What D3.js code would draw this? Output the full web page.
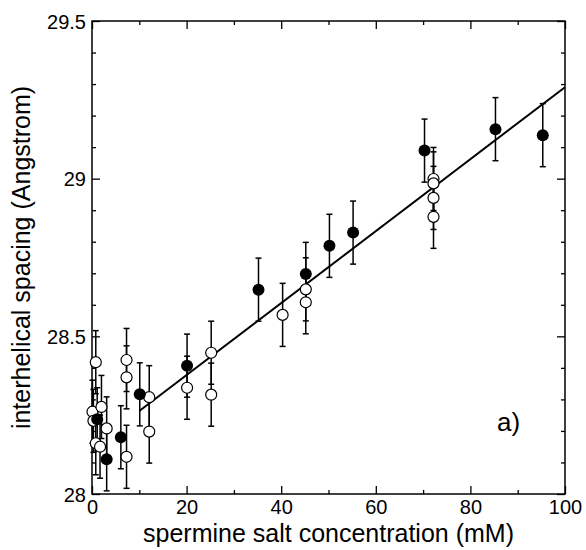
<!DOCTYPE html>
<html>
<head>
<meta charset="utf-8">
<script src="https://cdn.jsdelivr.net/npm/d3@7"></script>
<style>
  body { margin: 0; background: #fff; }
  text { font-family: "Liberation Sans", Arial, sans-serif; fill: #000; }
</style>
</head>
<body>
<script>
// filled circles
var filledX = [1.1, 3.1, 6.1, 10.1, 20.1, 35.2, 45.2, 50.2, 55.2, 70.3, 85.3, 95.3];
var filledY = [28.237, 28.11, 28.18, 28.316, 28.407, 28.648, 28.698, 28.787, 28.829, 29.089, 29.157, 29.138];
var filledErr = [0.1, 0.1, 0.1, 0.1, 0.1, 0.1, 0.1, 0.1, 0.1, 0.1, 0.1, 0.1];

// open circles
var openX = [0.1, 0.3, 0.8, 0.8, 1.7, 2.0, 3.1, 7.3, 7.3, 7.3, 12.1, 12.1, 20.1, 25.2, 25.2, 40.3, 45.2, 45.2, 72.2, 72.2, 72.2, 72.2];
var openY = [28.261, 28.232, 28.418, 28.161, 28.15, 28.276, 28.208, 28.425, 28.37, 28.118, 28.307, 28.198, 28.337, 28.448, 28.315, 28.568, 28.649, 28.608, 28.999, 28.985, 28.939, 28.879];
var openErr = [0.1, 0.1, 0.1, 0.1, 0.1, 0.1, 0.1, 0.1, 0.1, 0.1, 0.1, 0.1, 0.1, 0.1, 0.1, 0.1, 0.1, 0.1, 0.1, 0.1, 0.1, 0.1];

// linear fit
var fitX = [10, 100];
var fitY = [28.263, 29.29];

var xTicks = [0, 20, 40, 60, 80, 100];
var yTicks = [28, 28.5, 29, 29.5];
var yTickLabels = ["28", "28.5", "29", "29.5"];

var w = 586, h = 550;
var mLeft = 92, mRight = 565, mTop = 21, mBottom = 494;

var x = d3.scaleLinear().domain([0, 100]).range([mLeft, mRight]);
var y = d3.scaleLinear().domain([28, 29.5]).range([mBottom, mTop]);

var svg = d3.select("body").append("svg")
    .attr("width", w)
    .attr("height", h);

// frame
svg.append("rect")
    .attr("x", mLeft).attr("y", mTop)
    .attr("width", mRight - mLeft).attr("height", mBottom - mTop)
    .attr("fill", "none").attr("stroke", "#000").attr("stroke-width", 1.5);

// ticks (inward, all four sides)
var xMinor = d3.range(10, 100, 20);
var yMinor = [28.1, 28.2, 28.3, 28.4, 28.6, 28.7, 28.8, 28.9, 29.1, 29.2, 29.3, 29.4];

var bAxis = d3.axisBottom(x).tickValues(xTicks).tickSize(-8).tickFormat(d3.format("d"));
var gB = svg.append("g").attr("transform", "translate(0," + mBottom + ")").call(bAxis);
svg.append("g").attr("transform", "translate(0," + mBottom + ")")
    .call(d3.axisBottom(x).tickValues(xMinor).tickSize(-4).tickFormat(""));
svg.append("g").attr("transform", "translate(0," + mTop + ")")
    .call(d3.axisTop(x).tickValues(xTicks).tickSize(-8).tickFormat(""));
svg.append("g").attr("transform", "translate(0," + mTop + ")")
    .call(d3.axisTop(x).tickValues(xMinor).tickSize(-4).tickFormat(""));

var lAxis = d3.axisLeft(y).tickValues(yTicks).tickSize(-8)
    .tickFormat(function(d, i) { return yTickLabels[i]; });
var gL = svg.append("g").attr("transform", "translate(" + mLeft + ",0)").call(lAxis);
svg.append("g").attr("transform", "translate(" + mLeft + ",0)")
    .call(d3.axisLeft(y).tickValues(yMinor).tickSize(-4).tickFormat(""));
svg.append("g").attr("transform", "translate(" + mRight + ",0)")
    .call(d3.axisRight(y).tickValues(yTicks).tickSize(-8).tickFormat(""));
svg.append("g").attr("transform", "translate(" + mRight + ",0)")
    .call(d3.axisRight(y).tickValues(yMinor).tickSize(-4).tickFormat(""));

svg.selectAll(".domain").remove();
svg.selectAll(".tick line").attr("stroke", "#000").attr("stroke-width", 1.3);
svg.selectAll(".tick text")
    .style("font-family", "'Liberation Sans', Arial, sans-serif")
    .style("font-size", "20px")
    .attr("fill", "#000");
gB.selectAll(".tick text").attr("dy", null).attr("y", 20);
gL.selectAll(".tick text").attr("x", -6).attr("dy", "0.35em");

// axis titles
svg.append("text")
    .attr("x", (mLeft + mRight) / 2).attr("y", 542)
    .attr("text-anchor", "middle")
    .style("font-size", "25px")
    .text("spermine salt concentration (mM)");

svg.append("text")
    .attr("transform", "translate(30," + ((mTop + mBottom) / 2) + ")rotate(-90)")
    .attr("text-anchor", "middle")
    .style("font-size", "25px")
    .text("interhelical spacing (Angstrom)");

svg.append("text")
    .attr("x", 497).attr("y", 431)
    .style("font-size", "26px")
    .text("a)");

// fit line
svg.append("line")
    .attr("x1", x(fitX[0])).attr("y1", y(fitY[0]))
    .attr("x2", x(fitX[1])).attr("y2", y(fitY[1]))
    .attr("stroke", "#000").attr("stroke-width", 2);

function toPoints(xs, ys, es) {
    return xs.map(function(v, i) { return { x: v, y: ys[i], e: es[i] }; });
}
var filled = toPoints(filledX, filledY, filledErr);
var open = toPoints(openX, openY, openErr);
var all = open.concat(filled);

// error bars
var eb = svg.append("g").attr("stroke", "#000").attr("stroke-width", 1.5);
all.forEach(function(d) {
    var cx = x(d.x);
    eb.append("line").attr("x1", cx).attr("x2", cx).attr("y1", y(d.y - d.e)).attr("y2", y(d.y + d.e));
    eb.append("line").attr("x1", cx - 3).attr("x2", cx + 3).attr("y1", y(d.y - d.e)).attr("y2", y(d.y - d.e));
    eb.append("line").attr("x1", cx - 3).attr("x2", cx + 3).attr("y1", y(d.y + d.e)).attr("y2", y(d.y + d.e));
});

// markers
svg.append("g").selectAll("circle.open")
    .data(open).enter().append("circle")
    .attr("cx", function(d) { return x(d.x); })
    .attr("cy", function(d) { return y(d.y); })
    .attr("r", 5.5)
    .attr("fill", "#fff").attr("stroke", "#000").attr("stroke-width", 1.2);

svg.append("g").selectAll("circle.filled")
    .data(filled).enter().append("circle")
    .attr("cx", function(d) { return x(d.x); })
    .attr("cy", function(d) { return y(d.y); })
    .attr("r", 6)
    .attr("fill", "#000");
</script>
</body>
</html>
